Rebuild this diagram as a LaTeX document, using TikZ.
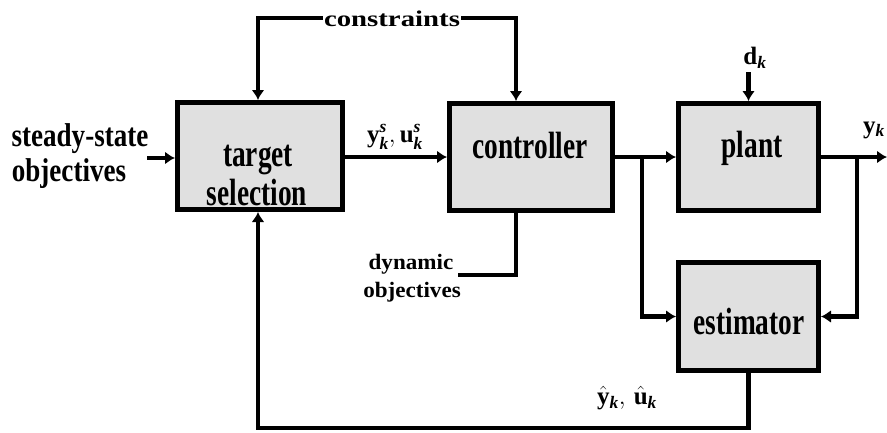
\documentclass[tikz,border=0pt]{standalone}
\usepackage{amsmath}
\usepackage{fontspec}
\setmainfont{Liberation Serif}
\newfontfamily\condfont[FakeStretch=0.72]{Liberation Serif}
\newfontfamily\sidefont[FakeStretch=0.82]{Liberation Serif}
\newfontfamily\widefont[FakeStretch=1.28]{Liberation Serif}
\newfontfamily\dynfont[FakeStretch=1.05]{Liberation Serif}
\usetikzlibrary{arrows.meta}
\tikzset{
  blk/.style={draw=black, line width=5pt, fill=black!12, minimum width=#1, minimum height=107pt, inner sep=0pt},
  blk/.default=165pt,
  conn/.style={line width=4.3pt, line join=miter},
  arr/.style={conn, -{Latex[length=10pt,width=13pt]}},
  boxtext/.style={font=\fontsize{38}{40}\condfont\bfseries, inner sep=0pt, anchor=base},
  sidetext/.style={font=\fontsize{33}{35}\sidefont\bfseries, inner sep=0pt, anchor=base},
  constext/.style={font=\fontsize{22.5}{24}\widefont\bfseries, inner sep=1pt, anchor=base},
  dyntext/.style={font=\fontsize{22}{24}\dynfont\bfseries, inner sep=0pt, anchor=base},
  mathtext/.style={font=\fontsize{25}{27}\selectfont\bfseries, inner sep=0pt},
}
\newcommand{\bk}{\textbf{\textit{k}}}
\newcommand{\bs}{\textbf{\textit{s}}}
\begin{document}
\begin{tikzpicture}[x=1pt, y=-1pt]
\useasboundingbox (0,0) rectangle (887,432);
\clip (0,0) rectangle (887,432);
% boxes
\node[blk] (ts) at (260,156) {};
\node[blk=163pt] (ctrl) at (531,157) {};
\node[blk=140pt] (plant) at (748.5,157) {};
\node[blk=140pt, minimum height=108pt] (est) at (748.5,316.5) {};
% box texts
\node[boxtext] (tstext1) at (258,166) {target};
\node[boxtext] (tstext2) at (257,205) {selection};
\node[boxtext] (ctrltext) at (530,158) {controller};
\node[boxtext] (planttext) at (752,157) {plant};
\node[boxtext] (esttext) at (749,334) {estimator};
% side texts
\node[sidetext] (ss1) at (80,146) {steady-state};
\node[sidetext] (ss2) at (69,181) {objectives};
\node[constext] (cons) at (392,26) {constraints};
\node[dyntext] (dyn1) at (411,269) {dynamic};
\node[dyntext] (dyn2) at (412,297) {objectives};
\node[mathtext] (dk) at (755,58) {$\mathbf{d}_{\bk}$};
\node[mathtext] (yss) at (395,137) {$\mathbf{y}^{\bs}_{\bk}, \mathbf{u}^{\bs}_{\bk}$};
\node[mathtext] (yhat) at (627,398) {$\hat{\mathbf{y}}_{\bk},\, \hat{\mathbf{u}}_{\bk}$};
\node[mathtext, anchor=west] (yk) at (863,130) {$\mathbf{y}_{\bk}$};
% coordinates
\coordinate (ssin) at (147,158);
\coordinate (consl) at (cons.west |- 0,18);
\coordinate (consr) at (cons.east |- 0,18);
\coordinate (dtop) at (748.5,72);
\coordinate (b1) at (642,157);
\coordinate (b2) at (857,157);
\coordinate (out) at (887,157);
\coordinate (dynin) at (458,275);
\coordinate (fbc) at (258,428);
% connectors
\draw[arr] (ssin) -- (ssin -| ts.west);
\draw[arr] (consl) -| ([xshift=-2pt]ts.north);
\draw[arr] (consr) -| ([xshift=-15pt]ctrl.north);
\draw[arr] (ts.east |- ctrl.west) -- (ctrl.west);
\draw[arr] (ctrl.east) -- (plant.west);
\draw[arr] (plant.east) -- (out);
\draw[arr] (dtop) -- (plant.north);
\draw[arr] (b1) |- (est.west);
\draw[arr] (b2) |- (est.east);
\draw[conn] (dynin) -| ([xshift=-15pt]ctrl.south);
\draw[arr] (est.south) |- (fbc) -- (fbc |- ts.south);
\end{tikzpicture}
\end{document}
